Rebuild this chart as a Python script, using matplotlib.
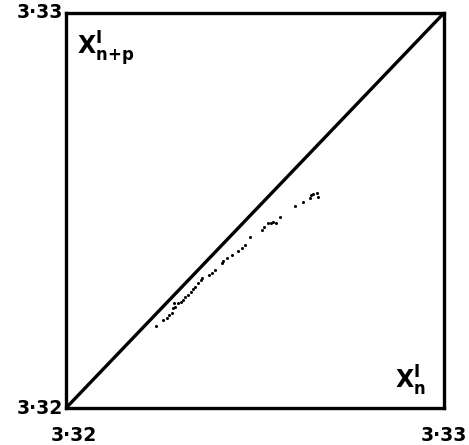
import matplotlib.pyplot as plt
import numpy as np

# iterates x'_n against x'_{n+p}
x_n = [3.32238, 3.32257, 3.32267, 3.32272, 3.32280, 3.32283, 3.32288, 3.32286,
       3.32296, 3.32304, 3.32310, 3.32315, 3.32323, 3.32331, 3.32336, 3.32341,
       3.32349, 3.32357, 3.32360, 3.32378, 3.32386, 3.32394, 3.32413, 3.32415,
       3.32426, 3.32439, 3.32455, 3.32466, 3.32474, 3.32487, 3.32519, 3.32524,
       3.32534, 3.32542, 3.32548, 3.32556, 3.32566, 3.32606, 3.32627, 3.32646,
       3.32648, 3.32653, 3.32664, 3.32667]
x_np = [3.32208, 3.32223, 3.32228, 3.32235, 3.32241, 3.32253, 3.32256, 3.32266,
        3.32266, 3.32268, 3.32273, 3.32281, 3.32286, 3.32294, 3.32301, 3.32306,
        3.32316, 3.32324, 3.32329, 3.32337, 3.32342, 3.32349, 3.32367, 3.32372,
        3.32380, 3.32387, 3.32397, 3.32405, 3.32413, 3.32433, 3.32451, 3.32458,
        3.32468, 3.32468, 3.32471, 3.32468, 3.32484, 3.32511, 3.32522, 3.32532,
        3.32539, 3.32542, 3.32544, 3.32534]

lo, hi = 3.32, 3.33
tick_labels = ["3·32", "3·33"]

fig = plt.figure(figsize=(4.69, 4.45), dpi=100)
ax = fig.add_axes([66 / 469, 37 / 445, 378 / 469, 395 / 445])

ax.plot([lo, hi], [lo, hi], color="black", lw=2.4, solid_capstyle="butt")
ax.plot(x_n, x_np, "o", color="black", ms=2.2, mew=0)

ax.set_xlim(lo, hi)
ax.set_ylim(lo, hi)
for s in ax.spines.values():
    s.set_linewidth(2.4)
ax.set_xticks([])
ax.set_yticks([])

font = dict(fontsize=13.5, fontweight="bold", color="black")
ax.text(-0.008, 1.0, tick_labels[1], transform=ax.transAxes, ha="right", va="center", **font)
ax.text(-0.008, 0.0, tick_labels[0], transform=ax.transAxes, ha="right", va="center", **font)
ax.text(0.02, -0.045, tick_labels[0], transform=ax.transAxes, ha="center", va="top", **font)
ax.text(1.0, -0.045, tick_labels[1], transform=ax.transAxes, ha="center", va="top", **font)

ax.text(0.03, 0.96, r"$\mathregular{X^{I}_{n{+}p}}$", transform=ax.transAxes,
        ha="left", va="top", fontsize=17, fontweight="bold")
ax.text(0.87, 0.025, r"$\mathregular{X^{I}_{n}}$", transform=ax.transAxes,
        ha="left", va="bottom", fontsize=17, fontweight="bold")

fig.savefig("out.png", dpi=100)
